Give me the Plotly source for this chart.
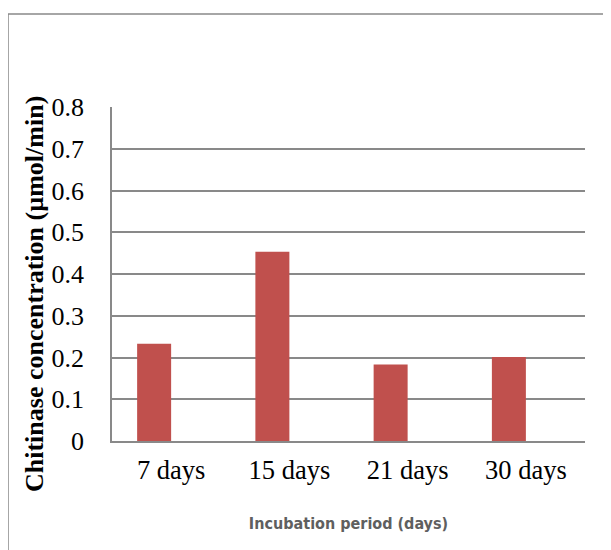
import plotly.graph_objects as go

categories = ["7 days", "15 days", "21 days", "30 days"]
values = [0.233, 0.453, 0.183, 0.201]
y_ticks = [0, 0.1, 0.2, 0.3, 0.4, 0.5, 0.6, 0.7, 0.8]
y_tick_labels = ["0", "0.1", "0.2", "0.3", "0.4", "0.5", "0.6", "0.7", "0.8"]
x_title = "Incubation period (days)"
y_title = "Chitinase concentration (µmol/min)"

# page body has an 8px margin, so the figure starts at (8, 8) in the window
OFF = 8
W, H = 611 - OFF, 550 - OFF
L, T = 112 - OFF, 107 - OFF
R = 611 - 585
B = 550 - 441
pw, ph = W - L - R, H - T - B

fig = go.Figure()
fig.add_trace(go.Bar(
    x=categories, y=values,
    marker=dict(color="#C0504D", line=dict(width=0)),
    width=0.2875, offset=-0.2875,
    hoverinfo="x+y",
))

grey = "#898989"
serif = "Liberation Serif, Times New Roman, serif"
fig.update_layout(
    width=W, height=H,
    margin=dict(l=L, r=R, t=T, b=B, autoexpand=False),
    paper_bgcolor="white", plot_bgcolor="white",
    showlegend=False,
    font=dict(family=serif, color="black"),
    xaxis=dict(
        type="category", range=[-0.5, 3.5],
        showgrid=False, zeroline=False,
        showline=True, linecolor=grey, linewidth=1.5,
        ticks="", tickfont=dict(size=26.5, family=serif, color="black"),
        ticklabelstandoff=4,
        title=dict(text="<b>" + x_title + "</b>", standoff=34,
                   font=dict(size=16, family="DejaVu Sans Condensed, Liberation Sans Narrow, Arial Narrow, Liberation Sans, sans-serif", color="#5f5f5f")),
    ),
    yaxis=dict(
        range=[0, 0.8], tickvals=y_ticks, ticktext=y_tick_labels,
        showgrid=True, gridcolor=grey, gridwidth=1.5,
        zeroline=False, showline=True, linecolor=grey, linewidth=1.5,
        ticks="", ticklabelstandoff=21,
        tickfont=dict(size=26, family=serif, color="black"),
    ),
)

# y-axis title, sitting slightly below the plot's vertical centre as in the original
fig.add_annotation(
    text="<b>" + y_title + "</b>", textangle=-90,
    xref="paper", yref="paper",
    x=(34 - 112) / pw, y=(441 - 294) / ph,
    xanchor="center", yanchor="middle", showarrow=False,
    font=dict(size=26, family=serif, color="black"),
)

# outer chart-area border (cut off at the right and bottom of the window)
fig.add_shape(type="rect", xref="paper", yref="paper",
              x0=(8 - 112) / pw, x1=(611 + 20 - 112) / pw,
              y0=(441 - 570) / ph, y1=(441 - 14) / ph,
              line=dict(color=grey, width=1.5), fillcolor="rgba(0,0,0,0)", layer="below")

fig.write_html("out.html")
